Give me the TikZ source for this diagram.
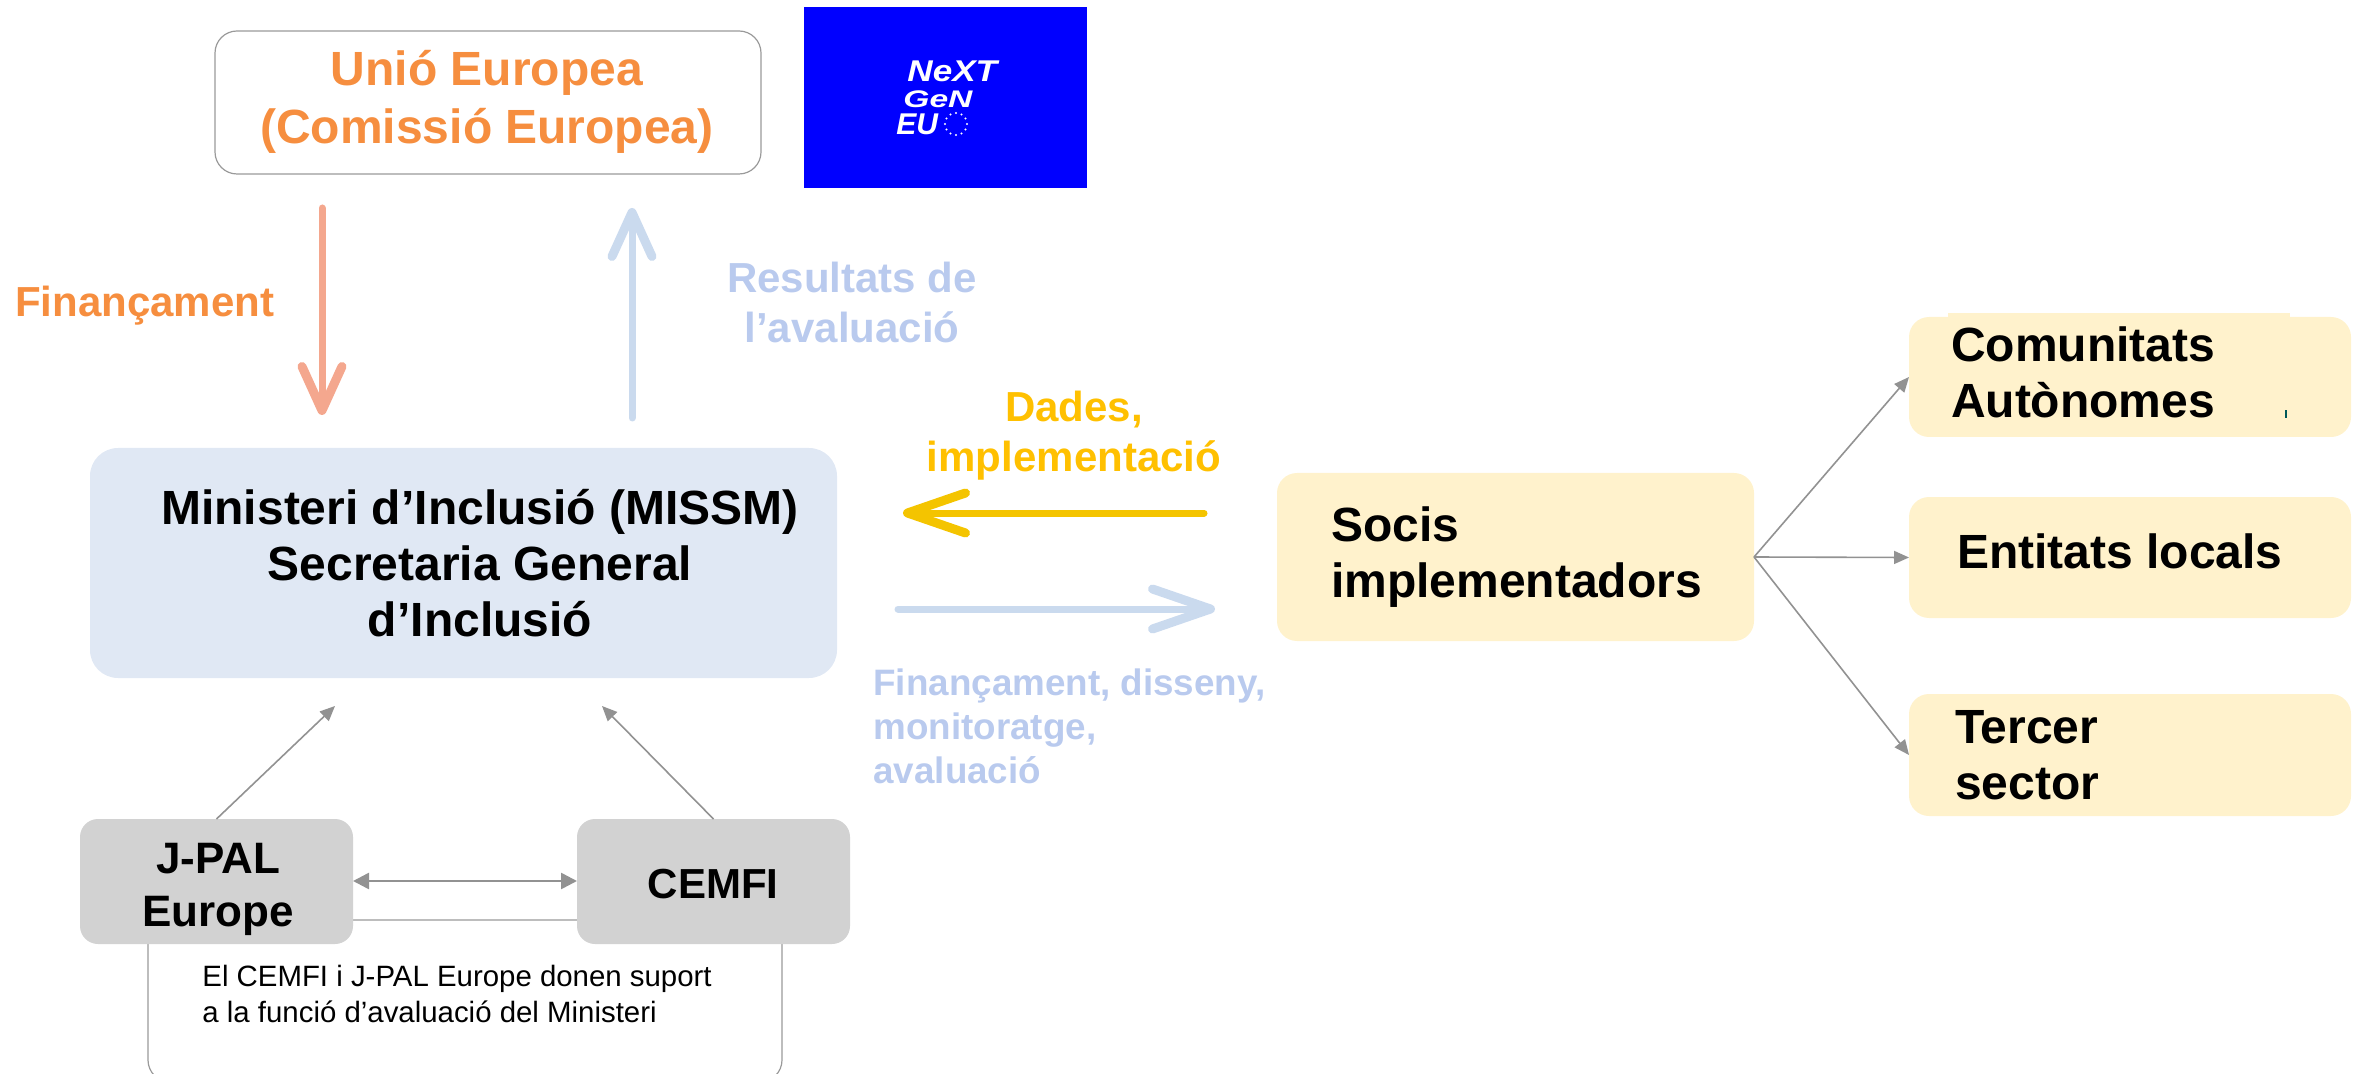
\documentclass[tikz,border=0pt]{standalone}
\usepackage{graphicx}
\usepackage{fontspec}
\setmainfont{Liberation Sans}
\usetikzlibrary{arrows.meta,fit}
\definecolor{cOrange}{HTML}{F68E3F}
\definecolor{cSalmon}{HTML}{F4A78E}
\definecolor{cBlueText}{HTML}{B9CAEE}
\definecolor{cBlueArrow}{HTML}{CADAEE}
\definecolor{cGold}{HTML}{FFC000}
\definecolor{cGoldArrow}{HTML}{F4C400}
\definecolor{cMin}{HTML}{E0E8F4}
\definecolor{cCream}{HTML}{FFF2CC}
\definecolor{cGrey}{HTML}{D2D2D2}
\definecolor{cLine}{HTML}{929292}
\definecolor{cOutline}{HTML}{9A9A9A}
\tikzset{
  x=0.5pt,y=-0.5pt,
  area/.style={fit={#1},inner sep=0pt,outer sep=0pt},
  outlinebox/.style={draw=cOutline,line width=0.6pt,fill=white,rounded corners=11pt},
  minbox/.style={fill=cMin,rounded corners=14pt},
  creambox/.style={fill=cCream,rounded corners=10pt},
  greybox/.style={fill=cGrey,rounded corners=9pt},
  txt/.style={inner sep=0pt,outer sep=0pt,font=\fontsize{24}{28}\selectfont\bfseries,align=left},
  midtxt/.style={inner sep=0pt,outer sep=0pt,font=\fontsize{21}{25.3}\selectfont\bfseries,align=center},
  logotxt/.style={inner sep=0pt,anchor=base west,text=white,text height=#1,text depth=0pt,font=\bfseries\itshape},
  thinarrow/.style={draw=cLine,line width=0.8pt,-{Triangle[length=7.5pt,width=6.5pt]}},
  bigarrow/.style={line width=3.5pt,line cap=round,-{Straight Barb[length=29pt,width=20pt,line width=4.5pt,round]}},
  uparrow/.style={line width=3.5pt,line cap=round,-{Straight Barb[length=22pt,width=20pt,line width=4.5pt,round]}}
}
\begin{document}
\begin{tikzpicture}
\useasboundingbox (0,0) rectangle (2364,1074);
\clip (0,0) rectangle (2364,1074);
% boxes
\node[area={(215,31)(761,174)},outlinebox] (ue) {};
\node[area={(804,7)(1087,188)},fill={rgb,255:red,0;green,0;blue,255}] (logo) {};
\node[area={(90,448)(837,678)},minbox] (min) {};
\node[area={(148,920)(782,1082)},outlinebox] (note) {};
\node[area={(80,819)(353,944)},greybox] (jpal) {};
\node[area={(577,819)(850,944)},greybox] (cemfi) {};
\node[area={(1277,473)(1754,641)},creambox] (socis) {};
\node[area={(1909,317)(2351,437)},creambox] (cca) {};
\node[area={(1948,313)(2290,325)},fill=cCream] (ccapatch) {};
\node[area={(2285,410)(2286,418)},fill=teal!70!black] (speck) {};
\node[area={(1909,497)(2351,618)},creambox] (local) {};
\node[area={(1909,694)(2351,816)},creambox] (tercer) {};
% logo
\node[logotxt=11pt] (lg1) at (907,82) {\fontsize{15}{15}\selectfont\scalebox{1.17}[1]{NeXT}};
\node[logotxt=8.5pt] (lg2) at (903,108) {\fontsize{12}{12}\selectfont\scalebox{1.4}[1]{GeN}};
\node[logotxt=11pt] (lg3) at (896,135) {\fontsize{15}{15}\selectfont EU};
\foreach \a in {0,30,...,330} \fill[white] (956,124) ++(\a:11) circle (0.6pt);
% texts
\node[midtxt,font=\fontsize{24}{29}\selectfont\bfseries,text=cOrange,anchor=base] (uet) at (487,144) {Unió Europea\\(Comissió Europea)};
\node[midtxt,text=cOrange,anchor=base west] (fin) at (15,317) {Finançament};
\node[midtxt,text=cBlueText,anchor=base] (res) at (852,343) {Resultats de\\l’avaluació};
\node[midtxt,text=cGold,anchor=base] (dad) at (1074,472) {Dades,\\implementació};
\node[txt,align=center,anchor=base] (mint) at (480,636) {Ministeri d’Inclusió (MISSM)\\Secretaria General\\d’Inclusió};
\node[inner sep=0pt,align=left,anchor=base west,text=cBlueText,font=\fontsize{18.4}{22}\selectfont\bfseries] (fd) at (873,783) {Finançament, disseny,\\monitoratge,\\avaluació};
\node[inner sep=0pt,align=center,anchor=base,font=\fontsize{22}{26.5}\selectfont\bfseries] (jt) at (218,926) {J-PAL\\Europe};
\node[inner sep=0pt,anchor=base,font=\fontsize{21}{25}\selectfont\bfseries] (ct) at (713,898) {CEMFI};
\node[inner sep=0pt,align=left,anchor=base west,font=\fontsize{14.7}{17.7}\selectfont] (nt) at (202,1022) {El CEMFI i J-PAL Europe donen suport\\a la funció d’avaluació del Ministeri};
\node[txt,anchor=base west] (st) at (1331,597) {Socis\\implementadors};
\node[txt,anchor=base west] (cct) at (1951,418) {Comunitats\\Autònomes};
\node[txt,anchor=base west] (lt) at (1957,568) {Entitats locals};
\node[txt,anchor=base west] (tt) at (1955,799) {Tercer\\sector};
% free ends
\coordinate (a1s) at (322,208); \coordinate (a1e) at (322,415);
\coordinate (a2s) at (632,418); \coordinate (a2e) at (632,208);
\coordinate (a3s) at (1204,513); \coordinate (a3e) at (903,513);
\coordinate (a4s) at (898,609); \coordinate (a4e) at (1215,609);
\coordinate (a5e) at (335,706); \coordinate (a6e) at (602,706);
% connectors
\draw[uparrow,cSalmon] (a1s) -- (a1e);
\draw[uparrow,cBlueArrow] (a2s) -- (a2e);
\draw[bigarrow,cGoldArrow] (a3s) -- (a3e);
\draw[bigarrow,cBlueArrow] (a4s) -- (a4e);
\draw[thinarrow] (jpal.north) -- (a5e);
\draw[thinarrow] (cemfi.north) -- (a6e);
\draw[thinarrow,line width=1.3pt,{Triangle[length=8pt,width=8pt]}-{Triangle[length=8pt,width=8pt]}] (jpal.east |- 0,881) -- (cemfi.west |- 0,881);
\draw[thinarrow] (socis.east) -- (cca.west);
\draw[thinarrow] (socis.east) -- (local.west);
\draw[thinarrow] (socis.east) -- (tercer.west);
\end{tikzpicture}
\end{document}
